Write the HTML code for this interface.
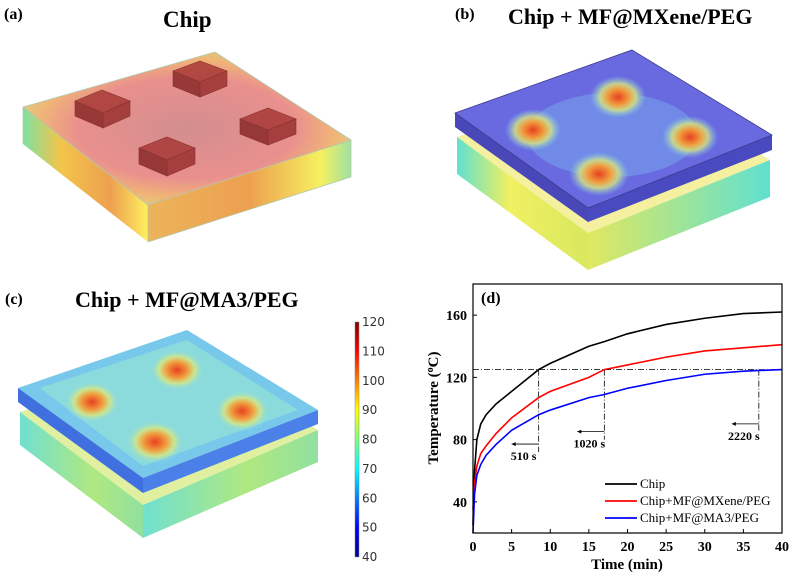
<!DOCTYPE html>
<html><head><meta charset="utf-8"><style>
body{margin:0;background:#fff;}
svg{display:block;}
.ser{font-family:"Liberation Serif",serif;font-weight:bold;}
.reg{font-family:"Liberation Serif",serif;font-weight:normal;}
.san{font-family:"DejaVu Sans","Liberation Sans",sans-serif;}
</style></head><body>
<svg id="fig" width="794" height="575" viewBox="0 0 794 575">
<defs>
 <linearGradient id="jet" x1="0" y1="1" x2="0" y2="0">
  <stop offset="0" stop-color="#00008f"/><stop offset="0.125" stop-color="#0000ff"/>
  <stop offset="0.375" stop-color="#00ffff"/><stop offset="0.5" stop-color="#7fff7f"/>
  <stop offset="0.625" stop-color="#ffff00"/><stop offset="0.875" stop-color="#ff0000"/>
  <stop offset="1" stop-color="#800000"/>
 </linearGradient>
 <linearGradient id="aFront" x1="0" y1="0" x2="1" y2="0">
  <stop offset="0" stop-color="#7fe0a0"/><stop offset="0.3" stop-color="#f3c54a"/><stop offset="0.7" stop-color="#eda050"/><stop offset="1" stop-color="#ffef60"/>
 </linearGradient>
 <linearGradient id="aRight" x1="0" y1="0" x2="1" y2="0">
  <stop offset="0" stop-color="#ecb45a"/><stop offset="0.5" stop-color="#eda050"/><stop offset="0.85" stop-color="#f6f060"/><stop offset="1" stop-color="#a0e0a0"/>
 </linearGradient>
 <radialGradient id="aTop" cx="0.5" cy="0.5" r="0.6">
  <stop offset="0" stop-color="#d08888"/><stop offset="0.55" stop-color="#e88a88"/><stop offset="0.75" stop-color="#f0b070"/><stop offset="1" stop-color="#c8e080"/>
 </radialGradient>
 <radialGradient id="hot" cx="0.5" cy="0.5" r="0.5">
  <stop offset="0" stop-color="#e84020"/><stop offset="0.4" stop-color="#f0a040"/><stop offset="0.65" stop-color="#d8e880" stop-opacity="0.8"/><stop offset="1" stop-color="#80d8f0" stop-opacity="0"/>
 </radialGradient>
 <linearGradient id="bLowF" x1="0" y1="0" x2="1" y2="0">
  <stop offset="0" stop-color="#60e0d0"/><stop offset="0.4" stop-color="#f0f060"/><stop offset="1" stop-color="#d8e860"/>
 </linearGradient>
 <linearGradient id="bLowR" x1="0" y1="0" x2="1" y2="0">
  <stop offset="0" stop-color="#e0e860"/><stop offset="1" stop-color="#60e0d0"/>
 </linearGradient>
 <linearGradient id="cLowF" x1="0" y1="0" x2="1" y2="0">
  <stop offset="0" stop-color="#70e0d0"/><stop offset="0.6" stop-color="#b0e880"/><stop offset="1" stop-color="#90e0a0"/>
 </linearGradient>
</defs>

<!-- Panel a -->
<g>
 <text class="ser" x="4" y="19" font-size="16">(a)</text>
 <text class="ser" x="163" y="27" font-size="23">Chip</text>
 <polygon points="23,107 148,205 148,242 23,144" fill="url(#aFront)"/>
 <polygon points="148,205 351,140 351,177 148,242" fill="url(#aRight)"/>
 <polygon points="23,107 215,52 351,140 148,205" fill="url(#aTop)" opacity="0.95"/>
 <polyline points="23,144 23,107 215,52 351,140 351,177 148,242 148,205 23,107" fill="none" stroke="#b0c8b0" stroke-width="0.8"/>
 <polyline points="148,205 351,140" fill="none" stroke="#b0c8b0" stroke-width="0.8"/>
 <g fill="#a83a36" stroke="#7a2020" stroke-width="0.6" opacity="0.85">
  <g transform="translate(103,110)"><polygon points="-28,-9 -1,-20 27,-9 0,3"/><polygon points="-28,-9 0,3 0,18 -28,6" fill="#8a2a28"/><polygon points="0,3 27,-9 27,6 0,18" fill="#9a3230"/></g>
  <g transform="translate(200,80)"><polygon points="-27,-9 0,-19 27,-9 0,2"/><polygon points="-27,-9 0,2 0,17 -27,6" fill="#8a2a28"/><polygon points="0,2 27,-9 27,6 0,17" fill="#9a3230"/></g>
  <g transform="translate(167,158)"><polygon points="-28,-10 0,-21 28,-10 0,2"/><polygon points="-28,-10 0,2 0,18 -28,6" fill="#8a2a28"/><polygon points="0,2 28,-10 28,6 0,18" fill="#9a3230"/></g>
  <g transform="translate(268,128)"><polygon points="-28,-9 0,-20 28,-9 0,2"/><polygon points="-28,-9 0,2 0,17 -28,6" fill="#8a2a28"/><polygon points="0,2 28,-9 28,6 0,17" fill="#9a3230"/></g>
 </g>
</g>

<!-- Panel b -->
<g>
 <text class="ser" x="455" y="19" font-size="16">(b)</text>
 <text class="ser" x="508" y="24" font-size="22">Chip + MF@MXene/PEG</text>
 <polygon points="457,137 632,75 770,160 588,233" fill="#f4f0a0"/>
 <polygon points="457,137 588,233 588,270 457,174" fill="url(#bLowF)"/>
 <polygon points="588,233 770,160 770,197 588,270" fill="url(#bLowR)"/>
 <polygon points="455,113 632,50 772,135 588,208" fill="#6a6ae0"/>
 <ellipse cx="612" cy="135" rx="85" ry="42" fill="#7ab0f0" opacity="0.45"/>
 <g>
  <ellipse cx="533" cy="130" rx="28" ry="21" fill="url(#hot)"/>
  <ellipse cx="618" cy="97" rx="28" ry="21" fill="url(#hot)"/>
  <ellipse cx="599" cy="174" rx="30" ry="22" fill="url(#hot)"/>
  <ellipse cx="690" cy="137" rx="28" ry="21" fill="url(#hot)"/>
 </g>
 <polygon points="455,113 588,208 588,222 455,127" fill="#4a48b8"/>
 <polygon points="588,208 772,135 772,150 588,222" fill="#4a4ac0"/>
 <polygon points="455,113 632,50 772,135 588,208" fill="none" stroke="#3a3a90" stroke-width="0.8"/>
</g>

<!-- Panel c -->
<g>
 <text class="ser" x="5" y="304" font-size="16">(c)</text>
 <text class="ser" x="75" y="307" font-size="22">Chip + MF@MA3/PEG</text>
 <polygon points="20,412 187,352 318,430 143,505" fill="#e0f0a0"/>
 <polygon points="20,412 143,505 143,538 20,445" fill="url(#cLowF)"/>
 <polygon points="143,505 318,430 318,462 143,538" fill="url(#cLowF)"/>
 <polygon points="18,388 187,330 318,410 143,478" fill="#78c8ec"/>
 <polygon points="40,388 187,340 298,410 143,466" fill="#90e0d8" opacity="0.8"/>
 <g>
  <ellipse cx="92" cy="402" rx="28" ry="21" fill="url(#hot)"/>
  <ellipse cx="177" cy="370" rx="28" ry="21" fill="url(#hot)"/>
  <ellipse cx="155" cy="442" rx="30" ry="22" fill="url(#hot)"/>
  <ellipse cx="242" cy="411" rx="28" ry="21" fill="url(#hot)"/>
 </g>
 <polygon points="18,388 143,478 143,493 18,402" fill="#4070e0"/>
 <polygon points="143,478 318,410 318,424 143,493" fill="#4a80e8"/>
</g>

<!-- Colorbar -->
<g>
 <rect x="355" y="322" width="4" height="235" fill="url(#jet)" stroke="#888" stroke-width="0.5"/>
 <g id="cbLabels" class="san" font-size="12" fill="#333"></g>
</g>

<!-- Chart d -->
<g id="chart">
 <text class="ser" x="481" y="303" font-size="16">(d)</text>
 <g id="marks"></g>
 <rect x="473" y="284" width="309" height="249" fill="none" stroke="#000" stroke-width="1.2"/>
 <g id="axes" class="ser" font-size="14"></g>
 <text class="ser" x="627" y="569" font-size="15" text-anchor="middle">Time (min)</text>
 <text class="ser" font-size="15" text-anchor="middle" transform="translate(438,408) rotate(-90)">Temperature (<tspan font-size="10" dy="-5">o</tspan><tspan dy="5">C)</tspan></text>
 <g id="legend" class="reg" font-size="13"></g>
</g>
</svg>
<script>
const cbTicks=[120,110,100,90,80,70,60,50,40];
const xTicks=[0,5,10,15,20,25,30,35,40];
const yTicks=[40,80,120,160];
const seriesNames=["Chip","Chip+MF@MXene/PEG","Chip+MF@MA3/PEG"];
const seriesColors=["#000000","#ff0000","#0000ff"];
const times=[0,0.2,0.5,1,1.7,3,5,8.5,10,15,17,20,25,30,35,40];
const chipVals=[25,60,80,90,96,103,111,125,129,140,143,148,154,158,161,162];
const mxeneVals=[35,52,63,71,76,84,94,107,111,120,125,128,133,137,139,141];
const ma3Vals=[20,45,57,64,70,77,86,96,99,107,109,113,118,122,124,125];
const thresholdTemp=125;
const markerTimes=[8.5,17,37];
const markerLabels=["510 s","1020 s","2220 s"];
const markerBottoms=[72,80,85];
const NS="http://www.w3.org/2000/svg";
const X=v=>473+v*309/40;
const Y=v=>533-(v-20)*249/160;
function mk(tag,attrs,parent){const e=document.createElementNS(NS,tag);for(const k in attrs)e.setAttribute(k,attrs[k]);parent.appendChild(e);return e;}
const cb=document.getElementById('cbLabels');
cbTicks.forEach(t=>{const e=mk('text',{x:362,y:557-(t-40)*235/80+4},cb);e.textContent=t;

});
const ax=document.getElementById('axes');
xTicks.forEach(t=>{mk('line',{x1:X(t),x2:X(t),y1:533,y2:529,stroke:'#000'},ax);
const e=mk('text',{x:X(t),y:551,'text-anchor':'middle'},ax);e.textContent=t;

});
yTicks.forEach(t=>{mk('line',{x1:473,x2:477,y1:Y(t),y2:Y(t),stroke:'#000'},ax);
const e=mk('text',{x:467,y:Y(t)+5,'text-anchor':'end'},ax);e.textContent=t;

});
const m=document.getElementById('marks');
const hl=mk('line',{x1:X(0),x2:X(40),y1:Y(thresholdTemp),y2:Y(thresholdTemp),stroke:'#000','stroke-width':0.8,'stroke-dasharray':'6,2,1,2'},m);


markerTimes.forEach((t,i)=>{
 const v=mk('line',{x1:X(t),x2:X(t),y1:Y(thresholdTemp),y2:Y(markerBottoms[i]),stroke:'#000','stroke-width':0.8,'stroke-dasharray':'6,2,1,2'},m);
 
 
 const ay=Y(markerBottoms[i])-8;
 const a=mk('line',{x1:X(t),x2:X(t-3.5),y1:ay,y2:ay,stroke:'#000','stroke-width':0.8},m);
 
 
 mk('polygon',{points:`${X(t-3.5)},${ay} ${X(t-3.5)+4},${ay-2} ${X(t-3.5)+4},${ay+2}`,fill:'#000'},m);
 const tx=mk('text',{x:X(t-3.5)+12,y:Y(markerBottoms[i])+8,'text-anchor':'middle','class':'ser','font-size':12},m);
 tx.textContent=markerLabels[i];
 
 
});
[chipVals,mxeneVals,ma3Vals].forEach((vals,i)=>{
 const p=mk('polyline',{points:times.map((t,j)=>X(t)+','+Y(vals[j])).join(' '),fill:'none',stroke:seriesColors[i],'stroke-width':1.6},m);
 
 
});
const lg=document.getElementById('legend');
seriesNames.forEach((n,i)=>{const y=484+i*17;
 const l=mk('line',{x1:605,x2:637,y1:y,y2:y,stroke:seriesColors[i],'stroke-width':1.8},lg);
 
 
 const t=mk('text',{x:640,y:y+4},lg);t.textContent=n;
 
 });
</script>
</body></html>
